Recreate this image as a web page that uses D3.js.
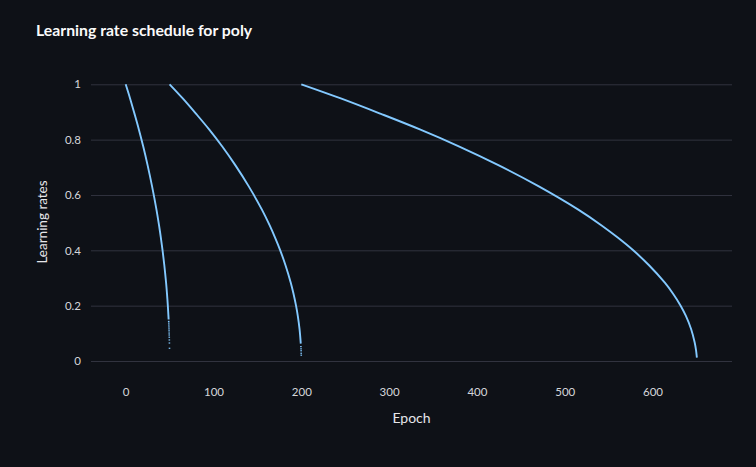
<!DOCTYPE html>
<html>
<head>
<meta charset="utf-8">
<script src="https://cdn.jsdelivr.net/npm/d3@7"></script>
<style>
    html, body { margin: 0; padding: 0; background: #0e1117; }
    svg { display: block; }
</style>
</head>
<body>
<div id="chart"></div>
<script>
// values
var title = "Learning rate schedule for poly";
var xTitle = "Epoch";
var yTitle = "Learning rates";

var xTicks = [0, 100, 200, 300, 400, 500, 600];
var yTicks = [0, 0.2, 0.4, 0.6, 0.8, 1];

// run 1 : epochs 0 - 50
var epochs1 = [0, 5, 10, 15, 20, 25, 30, 35, 38, 40, 42, 44, 46, 47, 48, 48.6, 48.9];
var rates1  = [1, 0.949, 0.894, 0.837, 0.775, 0.707, 0.632, 0.548, 0.490, 0.447, 0.400, 0.346, 0.283, 0.245, 0.200, 0.167, 0.150];
var tailEpochs1 = [49.0, 49.08, 49.15, 49.25, 49.33, 49.41, 49.49, 49.56, 49.63, 49.71, 49.79, 49.9];
var tailRates1  = [0.143, 0.137, 0.130, 0.123, 0.116, 0.109, 0.101, 0.094, 0.086, 0.076, 0.065, 0.046];

// run 2 : epochs 50 - 200
var epochs2 = [50, 65, 80, 95, 110, 125, 140, 155, 164, 170, 176, 182, 188, 191, 194, 196, 198, 199.4];
var rates2  = [1, 0.949, 0.894, 0.837, 0.775, 0.707, 0.632, 0.548, 0.490, 0.447, 0.400, 0.346, 0.283, 0.245, 0.200, 0.163, 0.115, 0.063];
var tailEpochs2 = [199.55, 199.68, 199.78, 199.87, 199.93];
var tailRates2  = [0.052, 0.044, 0.037, 0.028, 0.021];

// run 3 : epochs 200 - 650
var epochs3 = [200, 245, 290, 335, 380, 425, 470, 515, 542, 560, 578, 596, 614, 623, 632, 638, 644, 648, 649.5, 650.5];
var rates3  = [1, 0.949, 0.894, 0.837, 0.775, 0.707, 0.632, 0.548, 0.490, 0.447, 0.400, 0.346, 0.283, 0.245, 0.200, 0.163, 0.115, 0.067, 0.040, 0.012];

var runs = [
    {epochs: epochs1, rates: rates1, tailEpochs: tailEpochs1, tailRates: tailRates1},
    {epochs: epochs2, rates: rates2, tailEpochs: tailEpochs2, tailRates: tailRates2},
    {epochs: epochs3, rates: rates3, tailEpochs: [], tailRates: []}
];

var width = 756;
var height = 467;
var lineColor = "#83c9ff";
var font = "'Source Sans Pro', Lato, 'Noto Sans', sans-serif";

var svg = d3.select("#chart").append("svg")
    .attr("width", width)
    .attr("height", height);

svg.append("rect")
    .attr("width", width)
    .attr("height", height)
    .attr("fill", "#0e1117");

var xScale = d3.scaleLinear()
    .domain([-39.5, 690.5])
    .range([91, 732]);
var yScale = d3.scaleLinear()
    .domain([0, 1])
    .range([361, 84.3]);

// horizontal grid with y labels
var yAxis = svg.append("g")
    .attr("transform", "translate(91,0)")
    .call(d3.axisLeft(yScale)
        .tickValues(yTicks)
        .tickFormat(function(d){ return d3.format("~g")(d); })
        .tickSize(-(732 - 91))
        .tickPadding(10));
yAxis.select(".domain").remove();
yAxis.selectAll(".tick line")
    .attr("stroke", "#31333f")
    .attr("stroke-width", 1);
yAxis.selectAll(".tick text")
    .attr("fill", "#d5d6da")
    .attr("font-size", "11.5px")
    .attr("font-family", font);

var xAxis = svg.append("g")
    .attr("transform", "translate(0,361)")
    .call(d3.axisBottom(xScale)
        .tickValues(xTicks)
        .tickSize(0)
        .tickPadding(27));
xAxis.select(".domain").remove();
xAxis.selectAll(".tick text")
    .attr("fill", "#d5d6da")
    .attr("font-size", "11.5px")
    .attr("font-family", font);

var lineFunction = d3.line()
    .x(function(d){ return xScale(d[0]); })
    .y(function(d){ return yScale(d[1]); })
    .curve(d3.curveCatmullRom.alpha(0.5));

runs.forEach(function(run) {
    var pts = d3.zip(run.epochs, run.rates);
    svg.append("path")
        .datum(pts)
        .attr("fill", "none")
        .attr("stroke", lineColor)
        .attr("stroke-width", 1.9)
        .attr("stroke-linecap", "butt")
        .attr("d", lineFunction);

    svg.selectAll(null)
        .data(d3.zip(run.tailEpochs, run.tailRates))
        .enter().append("rect")
        .attr("x", function(d){ return xScale(d[0]) - 0.8; })
        .attr("y", function(d){ return yScale(d[1]) - 0.6; })
        .attr("width", 1.6)
        .attr("height", 1.2)
        .attr("fill", lineColor);
});

svg.append("text")
    .attr("x", 36)
    .attr("y", 36)
    .attr("fill", "#fafafa")
    .attr("font-family", font)
    .attr("font-weight", "bold")
    .attr("font-size", "15.8px")
    .text(title);

svg.append("text")
    .attr("x", 411.5)
    .attr("y", 423)
    .attr("text-anchor", "middle")
    .attr("fill", "#e6e6ea")
    .attr("font-family", font)
    .attr("font-size", "14px")
    .text(xTitle);

svg.append("text")
    .attr("transform", "translate(47,222) rotate(-90)")
    .attr("text-anchor", "middle")
    .attr("fill", "#e6e6ea")
    .attr("font-family", font)
    .attr("font-size", "13.5px")
    .text(yTitle);
</script>
</body>
</html>
